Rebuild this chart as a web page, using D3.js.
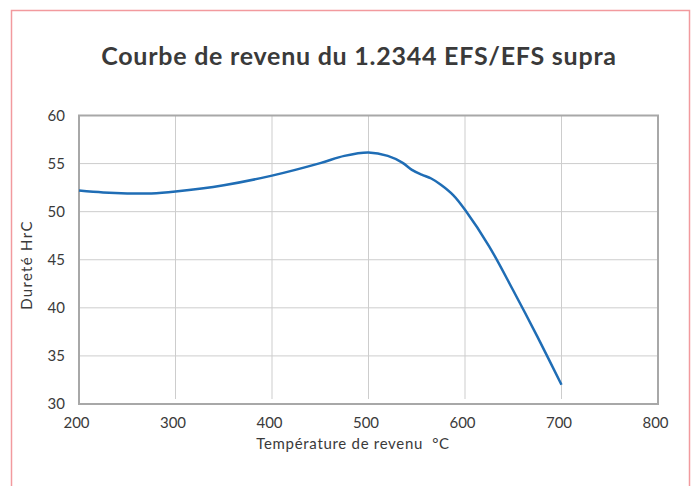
<!DOCTYPE html>
<html>
<head>
<meta charset="utf-8">
<script src="https://cdn.jsdelivr.net/npm/d3@7"></script>
<style>
  body { margin: 0; background: #fff; }
  text { font-family: Lato, "Open Sans", sans-serif; fill: #3a3a3a; }
</style>
</head>
<body>
<svg id="chart"></svg>
<script>
// courbe de revenu - lecture sur le graphique
var temperatures = [200, 225, 250, 275, 300, 350, 400, 450, 475, 500, 520, 535, 545, 555, 565, 575, 588, 600, 625, 650, 675, 700];
var durete =       [52.2, 52.0, 51.9, 51.9, 52.1, 52.75, 53.75, 55.05, 55.8, 56.15, 55.8, 55.1, 54.35, 53.85, 53.45, 52.8, 51.7, 50.2, 46.4, 41.8, 37.0, 32.0];
var xTicks = [200, 300, 400, 500, 600, 700, 800];
var yTicks = [30, 35, 40, 45, 50, 55, 60];

var width = 695, height = 486,
	margin = {top: 115.5, right: 37, bottom: 82, left: 79};

var svg = d3.select("#chart")
	.attr("width", width)
	.attr("height", height);

// cadre rose
svg.append("rect")
	.attr("x", 11.5).attr("y", 10.5)
	.attr("width", 678).attr("height", 500)
	.style("fill", "none")
	.style("stroke", "#f29a9e")
	.style("stroke-width", "1.5px");

svg.append("text")
	.attr("x", 359).attr("y", 65)
	.attr("text-anchor", "middle")
	.style("font-size", "25px")
	.style("font-weight", "bold")
	.style("letter-spacing", "0.75px")
	.text("Courbe de revenu du 1.2344 EFS/EFS supra");

var x = d3.scaleLinear().domain([200, 800]).range([margin.left, width - margin.right]);
var y = d3.scaleLinear().domain([30, 60]).range([height - margin.bottom, margin.top]);

var grid = svg.append("g").attr("class", "grid");
grid.selectAll("line.h")
	.data(yTicks.slice(1, -1))
  .enter().append("line")
	.attr("x1", x(200)).attr("x2", x(800))
	.attr("y1", function(d){ return y(d); })
	.attr("y2", function(d){ return y(d); })
	.style("stroke", "#cdcdcd")
	.style("stroke-width", "1px");
grid.selectAll("line.v")
	.data(xTicks.slice(1, -1))
  .enter().append("line")
	.attr("x1", function(d){ return x(d); })
	.attr("x2", function(d){ return x(d); })
	.attr("y1", y(60)).attr("y2", y(30) - 5)
	.style("stroke", "#cdcdcd")
	.style("stroke-width", "1px");

// cadre du graphique
svg.append("rect")
	.attr("x", x(200)).attr("y", y(60))
	.attr("width", x(800) - x(200)).attr("height", y(30) - y(60))
	.style("fill", "none")
	.style("stroke", "#a8a8a8")
	.style("stroke-width", "2px");

var xAxis = svg.append("g")
	.attr("transform", "translate(0," + y(30) + ")")
	.call(d3.axisBottom(x).tickValues(xTicks).tickSize(0).tickPadding(13));
var yAxis = svg.append("g")
	.attr("transform", "translate(" + x(200) + ",0)")
	.call(d3.axisLeft(y).tickValues(yTicks).tickSize(0).tickPadding(14));
[xAxis, yAxis].forEach(function(a){
	a.select(".domain").remove();
	a.selectAll("text")
		.style("font-size", "15px")
		.style("font-family", "Lato, sans-serif")
		.style("fill", "#3a3a3a");
});
xAxis.selectAll("text").attr("dx", "-3");

svg.append("text")
	.attr("x", 353).attr("y", 449)
	.attr("text-anchor", "middle")
	.style("font-size", "15px")
	.style("letter-spacing", "0.7px")
	.style("white-space", "pre")
	.text("Température de revenu  °C");

svg.append("text")
	.attr("transform", "translate(32,265) rotate(-90)")
	.attr("text-anchor", "middle")
	.style("font-size", "15px")
	.style("letter-spacing", "1.3px")
	.text("Dureté HrC");

var line = d3.line()
	.x(function(d, i){ return x(temperatures[i]); })
	.y(function(d){ return y(d); })
	.curve(d3.curveCatmullRom.alpha(0.5));

svg.append("path")
	.datum(durete)
	.attr("d", line)
	.style("fill", "none")
	.style("stroke", "#1f6db5")
	.style("stroke-width", "2.5px");
</script>
</body>
</html>
